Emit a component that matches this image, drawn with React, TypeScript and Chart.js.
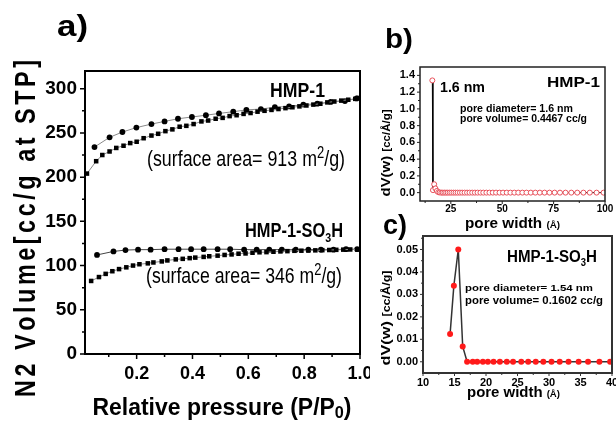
import React, { useEffect, useRef } from 'react';
import { Chart, registerables } from 'chart.js';
Chart.register(...registerables);

// ---------- Panel a: N2 isotherms ----------
const hmpAdsP = [0.022, 0.055, 0.077, 0.103, 0.127, 0.153, 0.177, 0.2, 0.225, 0.253, 0.277, 0.303, 0.328, 0.354, 0.378, 0.404, 0.432, 0.456, 0.483, 0.508, 0.533, 0.558, 0.583, 0.608, 0.633, 0.658, 0.683, 0.708, 0.733, 0.758, 0.783, 0.808, 0.833, 0.858, 0.883, 0.908, 0.933, 0.958, 0.983, 0.995];
const hmpAdsV = [204, 218, 225, 229, 233, 235.5, 238.5, 240, 244, 247, 249, 252, 254, 257, 258, 260, 263, 264, 266, 267, 269, 270, 271.5, 272.5, 274, 275, 276, 277, 278, 279, 280, 281, 282, 283, 284.5, 285.5, 286.5, 287.5, 288.5, 289.5];
const hmpDesP = [0.049, 0.103, 0.149, 0.199, 0.253, 0.3, 0.348, 0.398, 0.448, 0.495, 0.546, 0.593, 0.645, 0.695, 0.746, 0.797, 0.847, 0.895, 0.946, 0.988];
const hmpDesV = [234, 245, 251, 256, 260, 263, 266, 268, 270, 272, 274, 276, 277, 279, 280, 282, 283, 285, 286, 289];
const so3AdsP = [0.037, 0.065, 0.089, 0.113, 0.137, 0.163, 0.187, 0.21, 0.24, 0.26, 0.29, 0.31, 0.34, 0.365, 0.39, 0.41, 0.44, 0.46, 0.49, 0.515, 0.54, 0.565, 0.59, 0.615, 0.64, 0.665, 0.69, 0.715, 0.74, 0.765, 0.79, 0.815, 0.84, 0.865, 0.89, 0.915, 0.94, 0.965, 0.99];
const so3AdsV = [82.6, 87, 90.6, 93.6, 96, 98, 100, 101.5, 102.5, 103.5, 104.7, 105.8, 107, 107.6, 108.4, 109, 109.8, 110.5, 111.2, 112, 112.6, 113.4, 113.7, 114.5, 115, 115.2, 115.6, 116, 116.3, 116.7, 116.8, 117, 117.2, 117.4, 117.6, 117.8, 118, 118.2, 118.2];
const so3DesP = [0.058, 0.117, 0.16, 0.205, 0.25, 0.3, 0.35, 0.395, 0.44, 0.49, 0.535, 0.585, 0.63, 0.675, 0.72, 0.77, 0.815, 0.86, 0.905, 0.95, 0.99];
const so3DesV = [112, 116, 117.5, 118, 118, 118.5, 118.5, 118.5, 118.5, 118.5, 118.5, 118, 118, 118, 118, 118, 118, 118, 118, 118.5, 118.5];
const aXTicks = [0.2, 0.4, 0.6, 0.8, 1.0];
const aXMinor = [0.1, 0.3, 0.5, 0.7, 0.9];
const aYTicks = [0, 50, 100, 150, 200, 250, 300];
const aYMinor = [25, 75, 125, 175, 225, 275];

// ---------- Panel b: HMP-1 pore size distribution ----------
const bWidth = [16.0, 16.3, 16.9, 17.5, 18.2, 18.9, 19.6, 20.4, 21.1, 21.9, 22.7, 23.5, 24.4, 25.3, 26.3, 27.3, 28.3, 29.4, 30.5, 31.7, 32.9, 34.1, 35.4, 36.7, 38.0, 39.4, 40.8, 42.3, 43.8, 45.4, 47.0, 48.7, 50.4, 52.2, 54.0, 55.9, 57.8, 59.8, 61.8, 63.9, 66.1, 68.3, 70.6, 73.0, 75.5, 78.1, 80.8, 83.6, 86.5, 89.5, 92.6, 95.9, 99.3];
const bDV = [1.34, 0.03, 0.1, 0.05, 0.02, 0.005, 0.002, 0, 0, 0, 0, 0, 0, 0, 0, 0, 0, 0, 0, 0, 0, 0, 0, 0, 0, 0, 0, 0, 0, 0, 0, 0, 0, 0, 0, 0, 0, 0, 0, 0, 0, 0, 0, 0, 0, 0, 0, 0, 0, 0, 0, 0, 0];
const bXTicks = [25, 50, 75, 100];
const bXMinor = [12.5, 37.5, 62.5, 87.5];
const bYTicks = [0, 0.2, 0.4, 0.6, 0.8, 1.0, 1.2, 1.4];
const bYMinor = [0.1, 0.3, 0.5, 0.7, 0.9, 1.1, 1.3];

// ---------- Panel c: HMP-1-SO3H pore size distribution ----------
const cWidth = [14.3, 14.9, 15.6, 16.3, 17.0, 17.9, 18.6, 19.5, 20.3, 21.2, 22.2, 23.3, 24.3, 25.6, 26.7, 27.9, 29.1, 30.4, 31.7, 33.1, 34.7, 36.2, 38.0, 39.7];
const cDV = [0.0124, 0.0339, 0.05, 0.0068, 0, 0, 0, 0, 0, 0, 0, 0, 0, 0, 0, 0, 0, 0, 0, 0, 0, 0, 0, 0];
const cXTicks = [10, 15, 20, 25, 30, 35, 40];
const cXMinor = [12.5, 17.5, 22.5, 27.5, 32.5, 37.5];
const cYTicks = [0, 0.01, 0.02, 0.03, 0.04, 0.05];
const cYMinor = [0.005, 0.015, 0.025, 0.035, 0.045, 0.055];

const FN = '"Liberation Sans Narrow", "Liberation Sans", Arial, sans-serif';
const FS = '"Liberation Sans", Arial, sans-serif';

type Seg = { t: string; size: number; dy?: number };

function drawRich(ctx: CanvasRenderingContext2D, segs: Seg[], x: number, y: number,
  opt: { family: string; weight: string; width?: number; align?: 'left' | 'center'; color?: string }) {
  ctx.save();
  ctx.fillStyle = opt.color || '#000';
  ctx.textBaseline = 'alphabetic';
  ctx.textAlign = 'left';
  const widths = segs.map((s) => { ctx.font = `${opt.weight} ${s.size}px ${opt.family}`; return ctx.measureText(s.t).width; });
  const total = widths.reduce((a, b) => a + b, 0);
  const sx = opt.width ? opt.width / total : 1;
  ctx.translate(x, y);
  ctx.scale(sx, 1);
  let cx = opt.align === 'center' ? -total / 2 : 0;
  segs.forEach((s, i) => {
    ctx.font = `${opt.weight} ${s.size}px ${opt.family}`;
    ctx.fillText(s.t, cx, s.dy || 0);
    cx += widths[i];
  });
  ctx.restore();
}

function drawRotated(ctx: CanvasRenderingContext2D, segs: Seg[], bx: number, cy: number,
  opt: { family: string; weight: string; width?: number }) {
  ctx.save();
  ctx.translate(bx, cy);
  ctx.rotate(-Math.PI / 2);
  drawRich(ctx, segs, 0, 0, { ...opt, align: 'center' });
  ctx.restore();
}

// rotated text with condensed glyphs and wide letter spacing
function drawSpacedRotated(ctx: CanvasRenderingContext2D, text: string, bx: number, startY: number, length: number, font: string, squeeze: number) {
  ctx.save();
  ctx.translate(bx, startY);
  ctx.rotate(-Math.PI / 2);
  ctx.font = font;
  ctx.fillStyle = '#000';
  ctx.textBaseline = 'alphabetic';
  ctx.textAlign = 'left';
  const chars = Array.from(text);
  const ws = chars.map((c) => ctx.measureText(c).width * squeeze);
  const sum = ws.reduce((a, b) => a + b, 0);
  const gap = (length - sum) / (chars.length - 1);
  let cx = 0;
  chars.forEach((c, i) => {
    ctx.save();
    ctx.translate(cx, 0);
    ctx.scale(squeeze, 1);
    ctx.fillText(c, 0, 0);
    ctx.restore();
    cx += ws[i] + gap;
  });
  ctx.restore();
}

function drawFrame(chart: any, o: { xMajor: number[]; xMinor: number[]; yMajor: number[]; yMinor: number[]; major: number; minor: number; lw: number; tw: number; color: string }) {
  const { ctx, chartArea: a, scales } = chart;
  const x = scales.x, y = scales.y;
  ctx.save();
  ctx.strokeStyle = o.color;
  ctx.lineWidth = o.lw;
  ctx.strokeRect(a.left, a.top, a.right - a.left, a.bottom - a.top);
  ctx.lineWidth = o.tw;
  ctx.beginPath();
  const xt = (v: number, len: number) => { const p = x.getPixelForValue(v); ctx.moveTo(p, a.bottom); ctx.lineTo(p, a.bottom + len); };
  const yt = (v: number, len: number) => { const p = y.getPixelForValue(v); ctx.moveTo(a.left, p); ctx.lineTo(a.left - len, p); };
  o.xMajor.forEach((v) => xt(v, o.major));
  o.xMinor.forEach((v) => xt(v, o.minor));
  o.yMajor.forEach((v) => yt(v, o.major));
  o.yMinor.forEach((v) => yt(v, o.minor));
  ctx.stroke();
  ctx.restore();
}

function axis(min: number, max: number, ticks: number[], fmt: (v: number) => string, font: any, pad: number, size: number, horizontal: boolean) {
  return {
    type: 'linear',
    min, max,
    afterBuildTicks: (s: any) => { s.ticks = ticks.map((v) => ({ value: v })); },
    afterFit: (s: any) => {
      if (horizontal) { s.height = size; s.paddingLeft = 0; s.paddingRight = 0; }
      else { s.width = size; s.paddingTop = 0; s.paddingBottom = 0; }
    },
    grid: { display: false, drawTicks: false },
    border: { display: false },
    ticks: { callback: (v: any) => fmt(Number(v)), font, color: '#000', padding: pad, maxRotation: 0, minRotation: 0, autoSkip: false },
  };
}

const pts = (xs: number[], ys: number[]) => xs.map((x, i) => ({ x, y: ys[i] }));

function buildA(): any {
  return {
    type: 'scatter',
    data: {
      datasets: [
        { data: pts(hmpAdsP, hmpAdsV), showLine: true, borderColor: '#8a8a8a', borderWidth: 1, pointStyle: 'rect', pointRadius: 3.2, pointBackgroundColor: '#000', pointBorderColor: '#000', pointBorderWidth: 0 },
        { data: pts(hmpDesP, hmpDesV), showLine: true, borderColor: '#8a8a8a', borderWidth: 1, pointStyle: 'circle', pointRadius: 2.9, pointBackgroundColor: '#000', pointBorderColor: '#000', pointBorderWidth: 0 },
        { data: pts(so3AdsP, so3AdsV), showLine: true, borderColor: '#8a8a8a', borderWidth: 1, pointStyle: 'rect', pointRadius: 3.2, pointBackgroundColor: '#000', pointBorderColor: '#000', pointBorderWidth: 0 },
        { data: pts(so3DesP, so3DesV), showLine: true, borderColor: '#444', borderWidth: 1, pointStyle: 'circle', pointRadius: 2.9, pointBackgroundColor: '#000', pointBorderColor: '#000', pointBorderWidth: 0 },
      ],
    },
    options: {
      responsive: false, animation: false, events: [],
      layout: { padding: { left: 0, top: 71, right: 10, bottom: 0 } },
      plugins: { legend: { display: false }, tooltip: { enabled: false } },
      scales: {
        x: axis(0.015, 1.0, aXTicks, (v) => v.toFixed(1), { family: FN, size: 18, weight: 'bold' }, 9, 67, true),
        y: axis(0, 320, aYTicks, (v) => String(v), { family: FN, size: 19, weight: 'bold' }, 8, 85, false),
      },
    },
    plugins: [{
      id: 'decoA',
      afterDraw(chart: any) {
        const ctx = chart.ctx;
        drawFrame(chart, { xMajor: aXTicks, xMinor: aXMinor, yMajor: aYTicks, yMinor: aYMinor, major: 5, minor: 3, lw: 2, tw: 1.5, color: '#000' });
        drawRich(ctx, [{ t: 'a)', size: 30 }], 57, 36, { family: FS, weight: 'bold', width: 31 });
        drawSpacedRotated(ctx, 'N2 Volume[cc/g at STP]', 35, 397, 337, `bold 30px ${FN}`, 0.78);
        drawRich(ctx, [{ t: 'Relative pressure (P/P', size: 24 }, { t: '0', size: 17, dy: 3 }, { t: ')', size: 24 }], 222, 415, { family: FN, weight: 'bold', width: 259, align: 'center' });
        drawRich(ctx, [{ t: 'HMP-1', size: 20 }], 270, 97, { family: FN, weight: 'bold', width: 55 });
        drawRich(ctx, [{ t: '(surface area= 913 m', size: 22 }, { t: '2', size: 16, dy: -8 }, { t: '/g)', size: 22 }], 147, 166, { family: FN, weight: 'normal', width: 198 });
        drawRich(ctx, [{ t: 'HMP-1-SO', size: 20 }, { t: '3', size: 13, dy: 5 }, { t: 'H', size: 20 }], 245, 237, { family: FN, weight: 'bold', width: 98 });
        drawRich(ctx, [{ t: '(surface area= 346 m', size: 22 }, { t: '2', size: 16, dy: -8 }, { t: '/g)', size: 22 }], 146, 283, { family: FN, weight: 'normal', width: 196 });
      },
    }],
  };
}

function buildB(): any {
  return {
    type: 'scatter',
    data: {
      datasets: [
        { data: pts(bWidth, bDV), showLine: true, borderColor: '#000', borderWidth: 1, pointStyle: 'circle', pointRadius: 2.5, pointBackgroundColor: '#fff', pointBorderColor: '#e8505a', pointBorderWidth: 1 },
      ],
    },
    options: {
      responsive: false, animation: false, events: [],
      layout: { padding: { left: 0, top: 67, right: 11, bottom: 0 } },
      plugins: { legend: { display: false }, tooltip: { enabled: false } },
      scales: {
        x: axis(10, 100, bXTicks, (v) => String(v), { family: FS, size: 10, weight: 'bold' }, 2, 34, true),
        y: axis(-0.1, 1.5, bYTicks, (v) => v.toFixed(1), { family: FS, size: 11, weight: 'bold' }, 5, 50, false),
      },
    },
    plugins: [{
      id: 'decoB',
      afterDraw(chart: any) {
        const ctx = chart.ctx;
        drawFrame(chart, { xMajor: bXTicks, xMinor: bXMinor, yMajor: bYTicks, yMinor: bYMinor, major: 3, minor: 2, lw: 1.5, tw: 1, color: '#222' });
        drawRich(ctx, [{ t: 'b)', size: 28 }], 15, 48, { family: FS, weight: 'bold', width: 28 });
        drawRotated(ctx, [{ t: 'dV(w) ', size: 13 }, { t: '[cc/Å/g]', size: 10 }], 20, 153, { family: FS, weight: 'bold', width: 87 });
        drawRich(ctx, [{ t: 'pore width ', size: 14 }, { t: '(Å)', size: 9 }], 95, 228, { family: FS, weight: 'bold', width: 95 });
        drawRich(ctx, [{ t: '1.6 nm', size: 15 }], 70, 92, { family: FS, weight: 'bold', width: 45 });
        drawRich(ctx, [{ t: 'HMP-1', size: 14 }], 177, 87, { family: FS, weight: 'bold', width: 53 });
        drawRich(ctx, [{ t: 'pore diameter= 1.6 nm', size: 10 }], 90, 112, { family: FS, weight: 'bold', width: 113 });
        drawRich(ctx, [{ t: 'pore volume= 0.4467 cc/g', size: 10 }], 90, 122, { family: FS, weight: 'bold', width: 127 });
      },
    }],
  };
}

function buildC(): any {
  return {
    type: 'scatter',
    data: {
      datasets: [
        { data: pts(cWidth, cDV), showLine: true, borderColor: '#333', borderWidth: 1.5, pointStyle: 'circle', pointRadius: 3, pointBackgroundColor: '#ff1a1a', pointBorderColor: '#ff1a1a', pointBorderWidth: 0 },
      ],
    },
    options: {
      responsive: false, animation: false, events: [],
      layout: { padding: { left: 0, top: 31, right: 4, bottom: 0 } },
      plugins: { legend: { display: false }, tooltip: { enabled: false } },
      scales: {
        x: axis(10, 40, cXTicks, (v) => String(v), { family: FS, size: 11, weight: 'bold' }, 3, 48, true),
        y: axis(-0.005, 0.056, cYTicks, (v) => v.toFixed(2), { family: FS, size: 11, weight: 'bold' }, 5, 53, false),
      },
    },
    plugins: [{
      id: 'decoC',
      afterDraw(chart: any) {
        const ctx = chart.ctx;
        drawFrame(chart, { xMajor: cXTicks, xMinor: cXMinor, yMajor: cYTicks, yMinor: cYMinor, major: 3, minor: 2, lw: 2, tw: 1, color: '#333' });
        drawRich(ctx, [{ t: 'c)', size: 28 }], 13, 29, { family: FS, weight: 'bold', width: 24 });
        drawRotated(ctx, [{ t: 'dV(w) ', size: 13 }, { t: '[cc/Å/g]', size: 10 }], 20, 113, { family: FS, weight: 'bold', width: 95 });
        drawRich(ctx, [{ t: 'pore width ', size: 14 }, { t: '(Å)', size: 9 }], 97, 192, { family: FS, weight: 'bold', width: 93 });
        drawRich(ctx, [{ t: 'HMP-1-SO', size: 16 }, { t: '3', size: 10, dy: 4 }, { t: 'H', size: 16 }], 137, 57, { family: FS, weight: 'bold', width: 90 });
        drawRich(ctx, [{ t: 'pore diameter= 1.54 nm', size: 9 }], 95, 86, { family: FS, weight: 'bold', width: 128 });
        drawRich(ctx, [{ t: 'pore volume= 0.1602 cc/g', size: 11 }], 95, 99, { family: FS, weight: 'bold', width: 138 });
      },
    }],
  };
}

function ChartCanvas({ left, top, width, height, build }: { left: number; top: number; width: number; height: number; build: () => any }) {
  const ref = useRef<HTMLCanvasElement>(null);
  useEffect(() => {
    const chart = new Chart(ref.current as HTMLCanvasElement, build());
    return () => chart.destroy();
  }, []);
  return <canvas ref={ref} width={width} height={height} style={{ position: 'absolute', left, top, width, height, display: 'block' }} />;
}

export default function App() {
  return (
    <div style={{ position: 'absolute', left: 0, top: 0, width: 616, height: 421, background: '#fff', overflow: 'hidden' }}>
      <ChartCanvas left={0} top={0} width={370} height={421} build={buildA} />
      <ChartCanvas left={370} top={0} width={246} height={235} build={buildB} />
      <ChartCanvas left={370} top={205} width={246} height={216} build={buildC} />
    </div>
  );
}
